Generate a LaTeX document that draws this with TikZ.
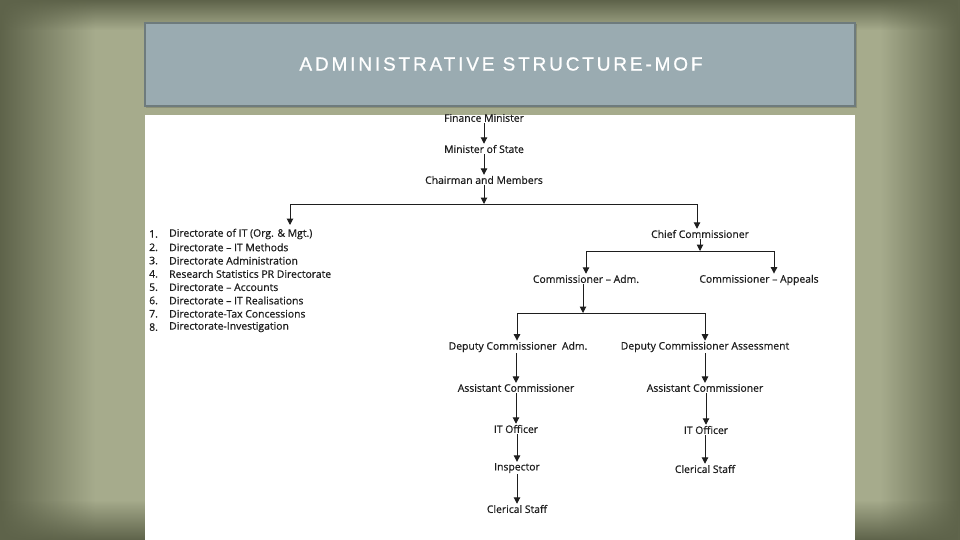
\documentclass[tikz,border=0pt]{standalone}
\usepackage{fontspec}
\setmainfont{Open Sans}
\newfontfamily\chartfont[FakeBold=0.6]{Open Sans}
\newfontfamily\titlefont[LetterSpace=15,FakeBold=0.8]{Liberation Sans}
\usetikzlibrary{arrows.meta,fadings}
\definecolor{bgdark}{HTML}{5E634A}
\definecolor{bglight}{HTML}{A6AB8C}
\definecolor{titlefill}{HTML}{9AABB1}
\definecolor{titleborder}{HTML}{6E7B7D}
\definecolor{ink}{HTML}{1E1E1E}
\begin{document}
\begin{tikzpicture}[x=1pt,y=-1pt,
  lbl/.style={font=\chartfont\fontsize{10.4}{11}\selectfont, inner sep=1pt, text=ink},
  arr/.style={-{Triangle[width=6.5pt,length=6.5pt]}, line width=1pt, draw=ink},
  ln/.style={line width=1pt, draw=ink}]
\useasboundingbox (0,0) rectangle (960,540);
% background
\fill[bglight] (0,0) rectangle (960,540);
\shade[left color=bgdark, right color=bglight] (0,0) rectangle (95,540);
\shade[left color=bglight, right color=bgdark] (880,0) rectangle (960,540);
\fill[bgdark, path fading=south] (0,0) rectangle (960,30);
\fill[bgdark, path fading=north] (0,500) rectangle (960,540);
% title box
\fill[black, opacity=0.15] (146,24) rectangle (857,108);
\draw[titleborder, line width=1.5pt, fill=titlefill] (145,23) rectangle (855,106);
\node[font=\titlefont\fontsize{19}{21}\selectfont, text=white] (title) at (501,64) {ADMINISTRATIVE STRUCTURE-MOF};
% chart area
\fill[white] (145,115) rectangle (855,540);

\node[lbl] (fm) at (484,118) {Finance Minister};
\node[lbl] (ms) at (484,149) {Minister of State};
\node[lbl] (cm) at (484,180) {Chairman and Members};
\draw[arr] (fm.south) -- (ms.north);
\draw[arr] (ms.south) -- (cm.north);
\coordinate (j1) at (484,204);
\draw[arr] (cm.south) -- (j1);
\coordinate (j1l) at (290,204);
\coordinate (j1r) at (697,204);
\draw[ln] (j1l) -- (j1r);
\coordinate (listtop) at (290,225);
\draw[arr] (j1l) -- (listtop);

% list
\foreach \i/\t [count=\k] in {1/Directorate of IT (Org. \& Mgt.),2/Directorate – IT Methods,3/Directorate Administration,4/Research Statistics PR Directorate,5/Directorate – Accounts,6/Directorate – IT Realisations,7/Directorate-Tax Concessions,8/Directorate-Investigation}{
  \node[lbl, anchor=west] (n\k) at (148,{234+(\k-1)*13.3}) {\i.};
  \node[lbl, anchor=west] (d\k) at (168,{234+(\k-1)*13.3}) {\t};
}

\node[lbl] (cc) at (700,234) {Chief Commissioner};
\draw[arr] (j1r) -- (cc.north -| j1r);
\coordinate (j2) at (700,251);
\draw[arr] (cc.south) -- (j2);
\node[lbl] (ca) at (586,279) {Commissioner – Adm.};
\node[lbl] (cp) at (759,280) {Commissioner – Appeals};
\coordinate (j2l) at (586,251);
\coordinate (j2r) at (774,251);
\draw[ln] (j2l) -- (j2r);
\draw[arr] (j2l) -- (ca.north);
\draw[arr] (j2r) -- (cp.north -| j2r);

\coordinate (j3) at (583,313);
\draw[arr] (ca.south -| j3) -- (j3);
\coordinate (j3l) at (517,313);
\coordinate (j3r) at (705,313);
\draw[ln] (j3l) -- (j3r);
\node[lbl] (da) at (518,347) {Deputy Commissioner\ \ Adm.};
\node[lbl] (ds) at (705,347) {Deputy Commissioner Assessment};
\draw[arr] (j3l) -- (da.north -| j3l);
\draw[arr] (j3r) -- (ds.north);

\node[lbl] (a1) at (516,388) {Assistant Commissioner};
\node[lbl] (a2) at (705,388) {Assistant Commissioner};
\draw[arr] (da.south -| a1) -- (a1.north);
\draw[arr] (ds.south) -- (a2.north);

\node[lbl] (i1) at (516,429) {IT Officer};
\node[lbl] (i2) at (706,430) {IT Officer};
\draw[arr] (a1.south) -- (i1.north);
\draw[arr] (a2.south -| i2) -- (i2.north);

\node[lbl] (ins) at (517,468) {Inspector};
\node[lbl] (cs2) at (705,469) {Clerical Staff};
\draw[arr] (i1.south -| ins) -- (ins.north);
\draw[arr] (i2.south -| cs2) -- (cs2.north);

\node[lbl] (cs1) at (517,509) {Clerical Staff};
\draw[arr] (ins.south) -- (cs1.north);
\end{tikzpicture}
\end{document}
